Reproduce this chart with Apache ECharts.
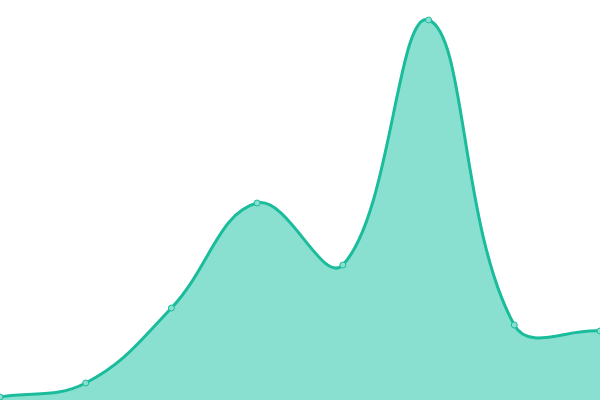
<!DOCTYPE html>
<html>
<head>
<meta charset="utf-8">
<script src="https://cdn.jsdelivr.net/npm/echarts@6/dist/echarts.min.js"></script>
<style>
    html, body { margin: 0; padding: 0; background: #fff; }
    #chart { width: 600px; height: 400px; }
</style>
</head>
<body>
<div id="chart"></div>
<script>
var categories = ['1', '2', '3', '4', '5', '6', '7', '8'];
var values = [3, 17, 92, 197, 135, 380, 75, 69];

var TENSION = 0.4;
var lineColor = '#1abc9c';
var areaColor = '#8ae0d0';

// spline control points, tension style (allowed to overshoot)
function buildPath(pts, box) {
    var cps = [];
    for (var i = 0; i < pts.length; i++) {
        var p = pts[i];
        var prev = pts[i - 1] || p, next = pts[i + 1] || p;
        var d01 = Math.hypot(p[0] - prev[0], p[1] - prev[1]);
        var d12 = Math.hypot(next[0] - p[0], next[1] - p[1]);
        var s01 = d01 / (d01 + d12), s12 = d12 / (d01 + d12);
        var fa = TENSION * (s01 || 0), fb = TENSION * (s12 || 0);
        var c0 = [p[0] - fa * (next[0] - prev[0]), p[1] - fa * (next[1] - prev[1])];
        var c1 = [p[0] + fb * (next[0] - prev[0]), p[1] + fb * (next[1] - prev[1])];
        [c0, c1].forEach(function (c) {
            c[0] = Math.min(Math.max(c[0], box.x), box.x + box.width);
            c[1] = Math.min(Math.max(c[1], box.y), box.y + box.height);
        });
        cps.push([c0, c1]);
    }
    var d = 'M' + pts[0][0] + ',' + pts[0][1];
    for (var j = 1; j < pts.length; j++) {
        var a = cps[j - 1][1], b = cps[j][0];
        d += ' C' + a[0] + ',' + a[1] + ' ' + b[0] + ',' + b[1] + ' ' + pts[j][0] + ',' + pts[j][1];
    }
    return d;
}

function renderCurve(params, api) {
    if (params.dataIndex !== 0) return null;
    var pts = [];
    for (var i = 0; i < values.length; i++) {
        pts.push(api.coord([i, values[i]]));
    }
    var base = api.coord([0, 0])[1];
    var line = buildPath(pts, params.coordSys);
    var area = line + ' L' + pts[pts.length - 1][0] + ',' + base + ' L' + pts[0][0] + ',' + base + ' Z';
    return {
        type: 'group',
        children: [{
            type: 'path',
            shape: { pathData: area },
            style: { fill: areaColor, stroke: null }
        }, {
            type: 'path',
            shape: { pathData: line },
            style: { fill: null, stroke: lineColor, lineWidth: 3 }
        }]
    };
}

var chart = echarts.init(document.getElementById('chart'));
var option = {
    animation: false,
    grid: { left: 0, right: 0, top: 0, bottom: 0 },
    xAxis: {
        type: 'category',
        boundaryGap: false,
        show: false,
        data: categories
    },
    yAxis: {
        type: 'value',
        min: 0,
        max: 400,
        show: false
    },
    series: [{
        type: 'custom',
        renderItem: renderCurve,
        encode: { x: 0, y: 1 },
        data: values.map(function (v, i) { return [i, v]; }),
        z: 2
    }, {
        type: 'scatter',
        data: values.map(function (v, i) { return [i, v]; }),
        symbol: 'circle',
        symbolSize: 6,
        itemStyle: { color: areaColor, borderColor: lineColor, borderWidth: 1, opacity: 1 },
        z: 3
    }]
};
chart.setOption(option);
</script>
</body>
</html>
